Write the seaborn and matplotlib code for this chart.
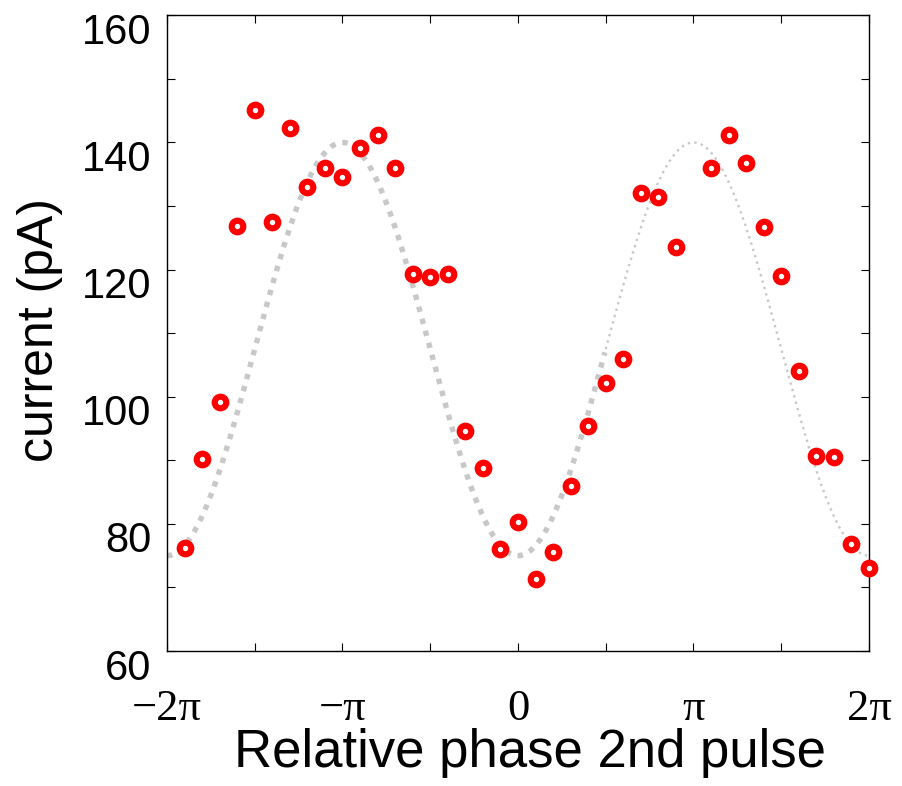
import numpy as np
import pandas as pd
import matplotlib
matplotlib.use("Agg")
import matplotlib.pyplot as plt
import matplotlib.transforms as mtransforms
import seaborn as sns

# ---- data (phase in units of pi, current in pA) ----
phase_over_pi = [-1.9, -1.8, -1.7, -1.6, -1.5, -1.4, -1.3, -1.2, -1.1, -1.0,
                 -0.9, -0.8, -0.7, -0.6, -0.5, -0.4, -0.3, -0.2, -0.1, 0.0,
                 0.1, 0.2, 0.3, 0.4, 0.5, 0.6, 0.7, 0.8, 0.9,
                 1.1, 1.2, 1.3, 1.4, 1.5, 1.6, 1.7, 1.8, 1.9, 2.0]
current_pA = [76.2, 90.2, 99.2, 126.9, 145.1, 127.5, 142.2, 133.0, 136.0, 134.6,
              139.2, 141.2, 136.0, 119.3, 118.8, 119.3, 94.6, 88.8, 76.0, 80.3,
              71.4, 75.6, 86.0, 95.4, 102.1, 105.9, 132.0, 131.4, 123.5,
              136.0, 141.2, 136.7, 126.7, 119.0, 104.1, 90.7, 90.5, 76.9, 73.1]

# fit curve parameters: offset - amplitude*cos(phase)
fit_offset = 107.5
fit_amplitude = 32.5
fit_split_over_pi = 0.5   # thick dotted part left of this, thin dotted right

xtick_labels = ["\u22122\u03c0", "", "\u2212\u03c0", "", "0", "", "\u03c0", "", "2\u03c0"]
yticks = [60, 70, 80, 90, 100, 110, 120, 130, 140, 150, 160]
ytick_labels = ["60", "", "80", "", "100", "", "120", "", "140", "", "160"]

sns.set_theme(style="white")
plt.rcParams['font.family'] = ['Liberation Sans', 'DejaVu Sans']
plt.rcParams['text.color'] = 'black'
plt.rcParams['axes.labelcolor'] = 'black'
plt.rcParams['xtick.color'] = 'black'
plt.rcParams['ytick.color'] = 'black'

fig = plt.figure(figsize=(9.03, 7.86), dpi=100)
ax = fig.add_axes([167/903, 1 - 651/786, 702/903, (651 - 15.3)/786])

phase = np.array(phase_over_pi) * np.pi
df = pd.DataFrame({"phase": phase, "current": current_pA})

xfit = np.linspace(-2*np.pi, 2*np.pi, 801)
yfit = fit_offset - fit_amplitude*np.cos(xfit)
split = fit_split_over_pi*np.pi
left = xfit <= split
right = xfit >= split

sns.lineplot(x=xfit[left], y=yfit[left], ax=ax, color="#c8c8c8", lw=3.9,
             linestyle=(0, (1, 1.3)), sort=False, estimator=None, zorder=1)
sns.lineplot(x=xfit[right], y=yfit[right], ax=ax, color="#c8c8c8", lw=1.7,
             linestyle=(0, (1, 1.8)), sort=False, estimator=None, zorder=1)

sns.scatterplot(data=df, x="phase", y="current", ax=ax, marker="o", s=70,
                color="white", edgecolor="#ff0000", linewidth=4.4, zorder=3,
                clip_on=False)

ax.set_xlim(-2*np.pi, 2*np.pi)
ax.set_ylim(60, 160)
ax.set_xticks(np.arange(-4, 5) * np.pi/2)
ax.set_xticklabels(xtick_labels, family=['Liberation Serif', 'DejaVu Serif'], fontsize=32)
ax.set_yticks(yticks)
ax.set_yticklabels(ytick_labels, fontsize=30)

for sp in ax.spines.values():
    sp.set_color("black")
    sp.set_linewidth(1.0)
    sp.set_visible(True)

ax.tick_params(axis="both", which="major", direction="in", length=6, width=0.8,
               color="black", top=True, right=True, bottom=True, left=True)
ax.tick_params(axis="x", pad=27)
ax.tick_params(axis="y", pad=11)

# y tick labels sit slightly below their ticks in the reference
offset = mtransforms.ScaledTranslation(0, -13/100, fig.dpi_scale_trans)
for lab in ax.get_yticklabels():
    lab.set_transform(lab.get_transform() + offset)

ax.set_xlabel("Relative phase 2nd pulse", fontsize=38)
ax.set_ylabel("current (pA)", fontsize=36)
ax.xaxis.set_label_coords(0.517, -0.121)
ax.yaxis.set_label_coords(-0.148, 0.505)

fig.savefig("out.png", dpi=100, facecolor="white")
